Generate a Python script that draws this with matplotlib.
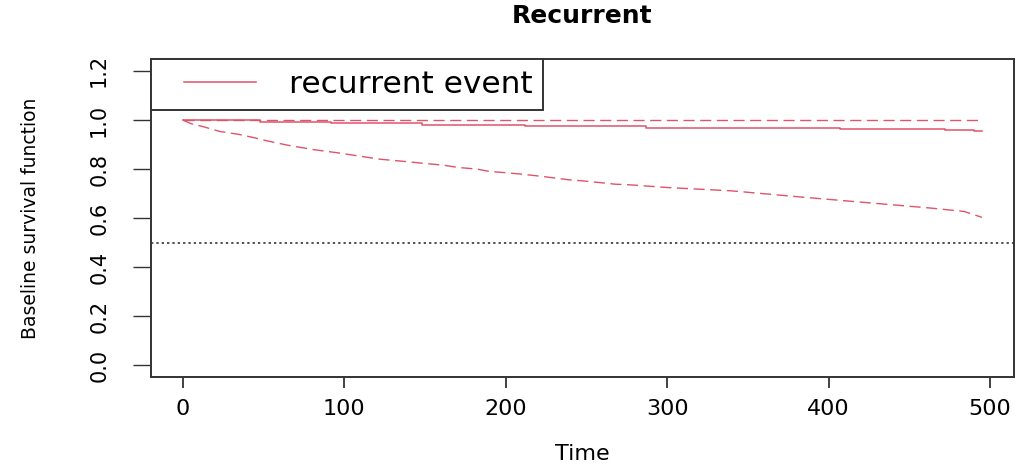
import numpy as np
import matplotlib.pyplot as plt
from matplotlib.legend_handler import HandlerLine2D

# baseline survival estimate (step function)
surv_time = [0, 48, 92, 148, 212, 287, 407, 472, 490, 495]
surv_est = [1.0, 0.993, 0.987, 0.981, 0.974, 0.969, 0.964, 0.959, 0.955, 0.955]

# confidence band
upper_time = [0, 495]
upper_ci = [1.0, 1.0]
lower_time = [0, 5, 13, 23, 34, 44, 52, 65, 81, 96, 110, 122, 134, 151, 161, 171,
              182, 190, 200, 210, 221, 231, 239, 247, 258, 268, 276, 299, 340,
              381, 422, 463, 484, 495]
lower_ci = [1.0, 0.985, 0.972, 0.953, 0.942, 0.928, 0.915, 0.897, 0.879, 0.866,
            0.852, 0.840, 0.833, 0.822, 0.816, 0.806, 0.800, 0.790, 0.785, 0.779,
            0.771, 0.763, 0.756, 0.752, 0.745, 0.738, 0.736, 0.725, 0.711, 0.687,
            0.664, 0.641, 0.627, 0.603]

x_ticks = [0, 100, 200, 300, 400, 500]
y_ticks = [0.0, 0.2, 0.4, 0.6, 0.8, 1.0, 1.2]
y_tick_labels = ['0.0', '0.2', '0.4', '0.6', '0.8', '1.0', '1.2']

red = '#DF536B'
box = '#333333'

fig, ax = plt.subplots(figsize=(10.19, 4.69), dpi=100)
fig.subplots_adjust(left=0.148, right=0.995, bottom=0.196, top=0.874)

# survival curve and band
ax.plot(surv_time, surv_est, color=red, lw=1.1, drawstyle='steps-post',
        label='recurrent event')
ax.plot(upper_time, upper_ci, color=red, lw=1.0, dashes=(8, 4))
ax.plot(lower_time, lower_ci, color=red, lw=1.0, dashes=(8, 4))
# median reference line
ax.axhline(0.5, color='#222222', lw=1.1, dashes=(1.5, 2))

# R style axis ranges (4% padding)
span = max(surv_time) - min(surv_time)
ax.set_xlim(min(surv_time) - 0.04 * span, max(surv_time) + 0.04 * span)
ax.set_ylim(-0.048, 1.248)

ax.set_xticks(x_ticks)
ax.set_yticks(y_ticks)
ax.set_yticklabels(y_tick_labels, rotation=90, va='center')
ax.tick_params(axis='x', length=8, width=1.3, color=box, labelsize=16, pad=8)
ax.tick_params(axis='y', length=13, width=1.0, color=box, labelsize=15, pad=17)
for s in ax.spines.values():
    s.set_color(box)
    s.set_linewidth(1.4)

ax.set_title('Recurrent', fontsize=18, fontweight='bold', pad=26)
ax.set_xlabel('Time', fontsize=16)
ax.xaxis.set_label_coords(0.5, -0.21)
ax.set_ylabel('Baseline survival function', fontsize=13.5)
ax.yaxis.set_label_coords(-0.128, 0.5)

# legend box in the top left corner
fs = 22.5
fs_px = fs * 100 / 72
bp = 0.35
hl = (256 - 151 - bp * fs_px) / fs_px
xp = (184 - 151 - bp * fs_px) / fs_px
leg = ax.legend(loc='upper left', fontsize=fs, borderaxespad=0, borderpad=bp,
                handlelength=hl, handletextpad=1.05, fancybox=False,
                edgecolor=box, framealpha=1,
                handler_map={plt.Line2D: HandlerLine2D(xpad=xp)})
leg.get_frame().set_linewidth(1.4)

fig.savefig('out.png', dpi=100)
